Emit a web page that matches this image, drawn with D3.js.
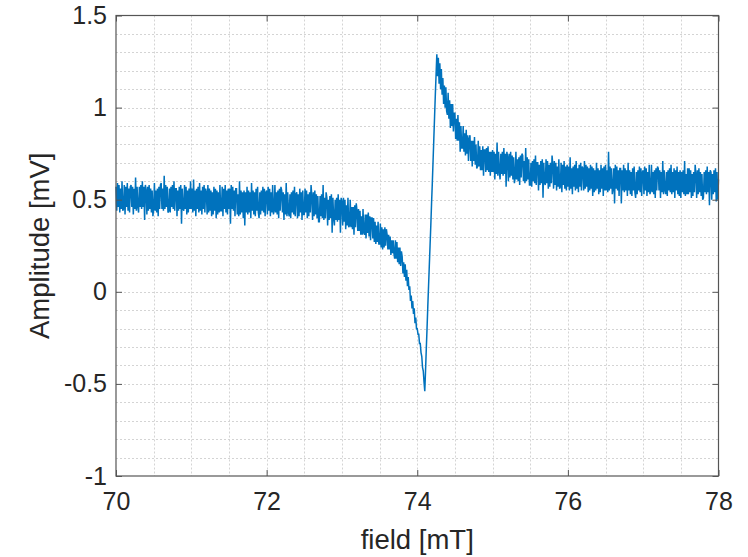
<!DOCTYPE html>
<html>
<head>
<meta charset="utf-8">
<script src="https://cdn.jsdelivr.net/npm/d3@7"></script>
<style>
  html, body { margin: 0; padding: 0; background: #fff; }
  svg { display: block; }
  text { font-family: "Liberation Sans", Arial, Helvetica, sans-serif; fill: #262626; }
</style>
</head>
<body>
<svg id="chart" width="748" height="557"></svg>
<script>
// Field sweep: 70 mT to 78 mT, one sample every 0.01 mT
const fieldStart = 70;
const fieldStep = 0.01;

// Measured amplitude [mV], one row per 0.1 mT
const amplitude = [
  0.57,0.44,0.59,0.46,0.58,0.43,0.56,0.45,0.60,0.44,
  0.45,0.58,0.42,0.57,0.46,0.59,0.44,0.56,0.43,0.57,
  0.58,0.46,0.57,0.42,0.56,0.45,0.62,0.44,0.57,0.46,
  0.43,0.57,0.46,0.58,0.45,0.60,0.46,0.57,0.39,0.58,
  0.55,0.42,0.57,0.44,0.58,0.45,0.56,0.43,0.55,0.41,
  0.45,0.59,0.44,0.55,0.43,0.56,0.41,0.57,0.45,0.58,
  0.59,0.45,0.56,0.44,0.63,0.45,0.58,0.46,0.57,0.43,
  0.44,0.56,0.43,0.57,0.46,0.58,0.45,0.60,0.44,0.56,
  0.56,0.41,0.55,0.44,0.57,0.45,0.58,0.37,0.56,0.45,
  0.44,0.58,0.45,0.57,0.42,0.55,0.43,0.56,0.45,0.60,
  0.45,0.56,0.43,0.61,0.44,0.55,0.41,0.56,0.45,0.57,
  0.43,0.59,0.44,0.55,0.42,0.57,0.45,0.58,0.43,0.56,
  0.54,0.42,0.58,0.43,0.56,0.44,0.55,0.41,0.54,0.42,
  0.57,0.44,0.56,0.40,0.55,0.42,0.54,0.43,0.58,0.44,
  0.44,0.57,0.41,0.56,0.45,0.58,0.43,0.55,0.42,0.56,
  0.45,0.56,0.37,0.58,0.45,0.57,0.44,0.55,0.41,0.56,
  0.56,0.42,0.53,0.41,0.60,0.42,0.55,0.43,0.54,0.40,
  0.55,0.36,0.54,0.43,0.57,0.42,0.55,0.43,0.54,0.40,
  0.59,0.44,0.55,0.42,0.54,0.41,0.56,0.44,0.57,0.43,
  0.40,0.54,0.42,0.55,0.44,0.57,0.43,0.56,0.41,0.54,
  0.55,0.42,0.57,0.44,0.56,0.41,0.54,0.43,0.58,0.42,
  0.44,0.58,0.43,0.54,0.42,0.55,0.40,0.56,0.44,0.57,
  0.55,0.43,0.54,0.39,0.53,0.42,0.59,0.41,0.54,0.43,
  0.41,0.53,0.40,0.54,0.43,0.55,0.42,0.57,0.41,0.53,
  0.54,0.40,0.53,0.41,0.56,0.43,0.54,0.39,0.55,0.42,
  0.42,0.56,0.43,0.55,0.40,0.53,0.41,0.54,0.43,0.58,
  0.52,0.39,0.54,0.41,0.55,0.42,0.53,0.40,0.52,0.38,
  0.38,0.52,0.41,0.53,0.40,0.58,0.39,0.51,0.40,0.54,
  0.51,0.36,0.50,0.39,0.52,0.40,0.53,0.32,0.51,0.40,
  0.36,0.50,0.39,0.51,0.38,0.53,0.39,0.50,0.32,0.51,
  0.49,0.36,0.51,0.38,0.50,0.34,0.47,0.36,0.51,0.35,
  0.36,0.50,0.35,0.46,0.34,0.46,0.31,0.47,0.35,0.48,
  0.44,0.33,0.45,0.33,0.44,0.31,0.41,0.31,0.45,0.32,
  0.31,0.42,0.29,0.42,0.32,0.43,0.30,0.41,0.28,0.40,
  0.40,0.29,0.40,0.27,0.38,0.26,0.36,0.27,0.38,0.26,
  0.26,0.37,0.24,0.35,0.23,0.34,0.24,0.35,0.25,0.34,
  0.31,0.23,0.31,0.23,0.30,0.20,0.28,0.21,0.28,0.21,
  0.18,0.28,0.18,0.27,0.16,0.24,0.15,0.24,0.14,0.22,
  0.19,0.10,0.16,0.08,0.15,0.06,0.12,0.03,0.08,0.01,
  0.03,-0.05,-0.02,-0.09,-0.05,-0.12,-0.09,-0.17,-0.14,-0.20,
  -0.20,-0.23,-0.23,-0.28,-0.28,-0.33,-0.35,-0.41,-0.43,-0.49,
  -0.54,-0.43,-0.31,-0.20,-0.08,0.03,0.14,0.25,0.36,0.48,
  0.59,0.71,0.83,0.95,1.07,1.18,1.29,1.17,1.27,1.13,
  1.24,1.10,1.21,1.07,1.16,1.02,1.12,1.00,1.11,0.98,
  0.96,1.08,0.94,1.04,0.89,1.02,0.90,1.02,0.87,0.97,
  0.97,0.83,0.94,0.82,0.96,0.82,0.92,0.76,0.90,0.78,
  0.78,0.90,0.76,0.86,0.74,0.88,0.75,0.85,0.71,0.83,
  0.85,0.71,0.82,0.68,0.82,0.71,0.84,0.69,0.80,0.67,
  0.68,0.82,0.68,0.79,0.66,0.77,0.66,0.79,0.63,0.77,
  0.77,0.65,0.78,0.66,0.79,0.65,0.76,0.63,0.76,0.65,
  0.77,0.65,0.76,0.61,0.75,0.64,0.81,0.63,0.76,0.65,
  0.61,0.75,0.64,0.76,0.63,0.78,0.64,0.75,0.57,0.76,
  0.73,0.60,0.75,0.62,0.76,0.63,0.74,0.61,0.73,0.59,
  0.62,0.76,0.61,0.72,0.60,0.73,0.58,0.74,0.62,0.75,
  0.74,0.60,0.71,0.59,0.78,0.60,0.73,0.61,0.72,0.58,
  0.58,0.70,0.57,0.71,0.60,0.72,0.59,0.74,0.58,0.70,
  0.70,0.55,0.69,0.58,0.71,0.59,0.72,0.51,0.70,0.59,
  0.58,0.72,0.59,0.71,0.56,0.69,0.57,0.70,0.59,0.74,
  0.69,0.56,0.71,0.58,0.70,0.55,0.68,0.57,0.72,0.56,
  0.57,0.70,0.54,0.69,0.58,0.71,0.56,0.68,0.55,0.69,
  0.57,0.68,0.55,0.73,0.56,0.67,0.53,0.68,0.57,0.69,
  0.55,0.71,0.56,0.67,0.54,0.69,0.57,0.70,0.55,0.68,
  0.67,0.55,0.71,0.56,0.69,0.57,0.68,0.54,0.67,0.55,
  0.69,0.56,0.68,0.52,0.67,0.54,0.66,0.55,0.70,0.56,
  0.67,0.53,0.66,0.54,0.69,0.56,0.67,0.52,0.68,0.55,
  0.69,0.55,0.66,0.54,0.76,0.55,0.68,0.56,0.67,0.53,
  0.56,0.67,0.48,0.69,0.56,0.68,0.55,0.66,0.52,0.67,
  0.67,0.48,0.66,0.55,0.69,0.54,0.67,0.55,0.66,0.52,
  0.70,0.55,0.66,0.53,0.65,0.52,0.67,0.55,0.68,0.54,
  0.51,0.65,0.53,0.66,0.55,0.68,0.54,0.67,0.52,0.65,
  0.66,0.53,0.68,0.55,0.67,0.52,0.65,0.54,0.69,0.53,
  0.55,0.69,0.54,0.65,0.53,0.66,0.51,0.67,0.55,0.68,
  0.67,0.55,0.66,0.51,0.65,0.54,0.71,0.53,0.66,0.55,
  0.53,0.65,0.52,0.66,0.55,0.67,0.54,0.69,0.53,0.65,
  0.54,0.67,0.51,0.66,0.55,0.68,0.53,0.65,0.52,0.66,
  0.51,0.65,0.54,0.66,0.53,0.71,0.52,0.64,0.53,0.67,
  0.53,0.67,0.54,0.66,0.51,0.64,0.52,0.65,0.54,0.69,
  0.64,0.51,0.66,0.53,0.67,0.54,0.65,0.52,0.64,0.50,
  0.51,0.65,0.54,0.66,0.53,0.68,0.54,0.65,0.47,0.66,
  0.65,0.50,0.64,0.53,0.66,0.54,0.67,0.49,0.65,0.50,
  0.61
];

// Axis ticks and grid lines
const xTicks = [70, 72, 74, 76, 78];
const yTicks = [-1, -0.5, 0, 0.5, 1, 1.5];
const xGrid = [70.5, 71, 71.5, 72, 72.5, 73, 73.5, 74, 74.5, 75, 75.5, 76, 76.5, 77, 77.5];
const yGrid = [-0.9, -0.8, -0.7, -0.6, -0.5, -0.4, -0.3, -0.2, -0.1, 0, 0.1, 0.2, 0.3, 0.4,
               0.5, 0.6, 0.7, 0.8, 0.9, 1, 1.1, 1.2, 1.3, 1.4];

const xLabel = "field [mT]";
const yLabel = "Amplitude [mV]";

const data = amplitude.map((v, i) => ({ f: fieldStart + i * fieldStep, v }));

const svg = d3.select("#chart");
const plotLeft = 116, plotRight = 718.5, plotTop = 15.5, plotBottom = 476;

const x = d3.scaleLinear().domain([70, 78]).range([plotLeft, plotRight]);
const y = d3.scaleLinear().domain([-1, 1.5]).range([plotBottom, plotTop]);

// Dotted grid
const grid = svg.append("g")
  .attr("stroke", "#d4d4d4")
  .attr("stroke-width", 1)
  .attr("stroke-dasharray", "2,2");
grid.selectAll("line.gx").data(xGrid).join("line")
  .attr("x1", d => Math.round(x(d)) + 0.5).attr("x2", d => Math.round(x(d)) + 0.5)
  .attr("y1", plotTop).attr("y2", plotBottom);
grid.selectAll("line.gy").data(yGrid).join("line")
  .attr("y1", d => Math.round(y(d)) + 0.5).attr("y2", d => Math.round(y(d)) + 0.5)
  .attr("x1", plotLeft).attr("x2", plotRight);

// Signal trace
const line = d3.line().x(d => x(d.f)).y(d => y(d.v));
svg.append("path")
  .datum(data)
  .attr("fill", "none")
  .attr("stroke", "#0072BD")
  .attr("stroke-width", 1.5)
  .attr("stroke-linejoin", "miter")
  .attr("d", line);

// Axes with inward ticks on all four sides
const tickLen = 6;
const axisColor = "#555";
const plainNumber = d => String(d);
function styleAxis(g) {
  g.select(".domain").remove();
  g.selectAll(".tick line").attr("stroke", axisColor).attr("stroke-width", 1);
  g.selectAll(".tick text")
    .style("font-family", "'Liberation Sans', Arial, Helvetica, sans-serif")
    .style("font-size", "25px")
    .attr("fill", "#262626");
}

svg.append("g")
  .attr("transform", `translate(0,${plotBottom})`)
  .call(d3.axisBottom(x).tickValues(xTicks).tickSize(-tickLen).tickPadding(16).tickFormat(plainNumber))
  .call(styleAxis);
svg.append("g")
  .attr("transform", `translate(0,${plotTop})`)
  .call(d3.axisTop(x).tickValues(xTicks).tickSize(-tickLen).tickFormat(""))
  .call(styleAxis);
svg.append("g")
  .attr("transform", `translate(${plotLeft},0)`)
  .call(d3.axisLeft(y).tickValues(yTicks).tickSize(-tickLen).tickPadding(9).tickFormat(plainNumber))
  .call(styleAxis);
svg.append("g")
  .attr("transform", `translate(${plotRight},0)`)
  .call(d3.axisRight(y).tickValues(yTicks).tickSize(-tickLen).tickFormat(""))
  .call(styleAxis);

// Box
svg.append("rect")
  .attr("x", plotLeft).attr("y", plotTop)
  .attr("width", plotRight - plotLeft).attr("height", plotBottom - plotTop)
  .attr("fill", "none").attr("stroke", axisColor).attr("stroke-width", 1.2);

// Axis titles
svg.append("text")
  .attr("x", (plotLeft + plotRight) / 2).attr("y", 549)
  .attr("text-anchor", "middle")
  .style("font-size", "27.5px")
  .text(xLabel);
svg.append("text")
  .attr("transform", `translate(49,${(plotTop + plotBottom) / 2}) rotate(-90)`)
  .attr("text-anchor", "middle")
  .style("font-size", "27.5px")
  .text(yLabel);
</script>
</body>
</html>
